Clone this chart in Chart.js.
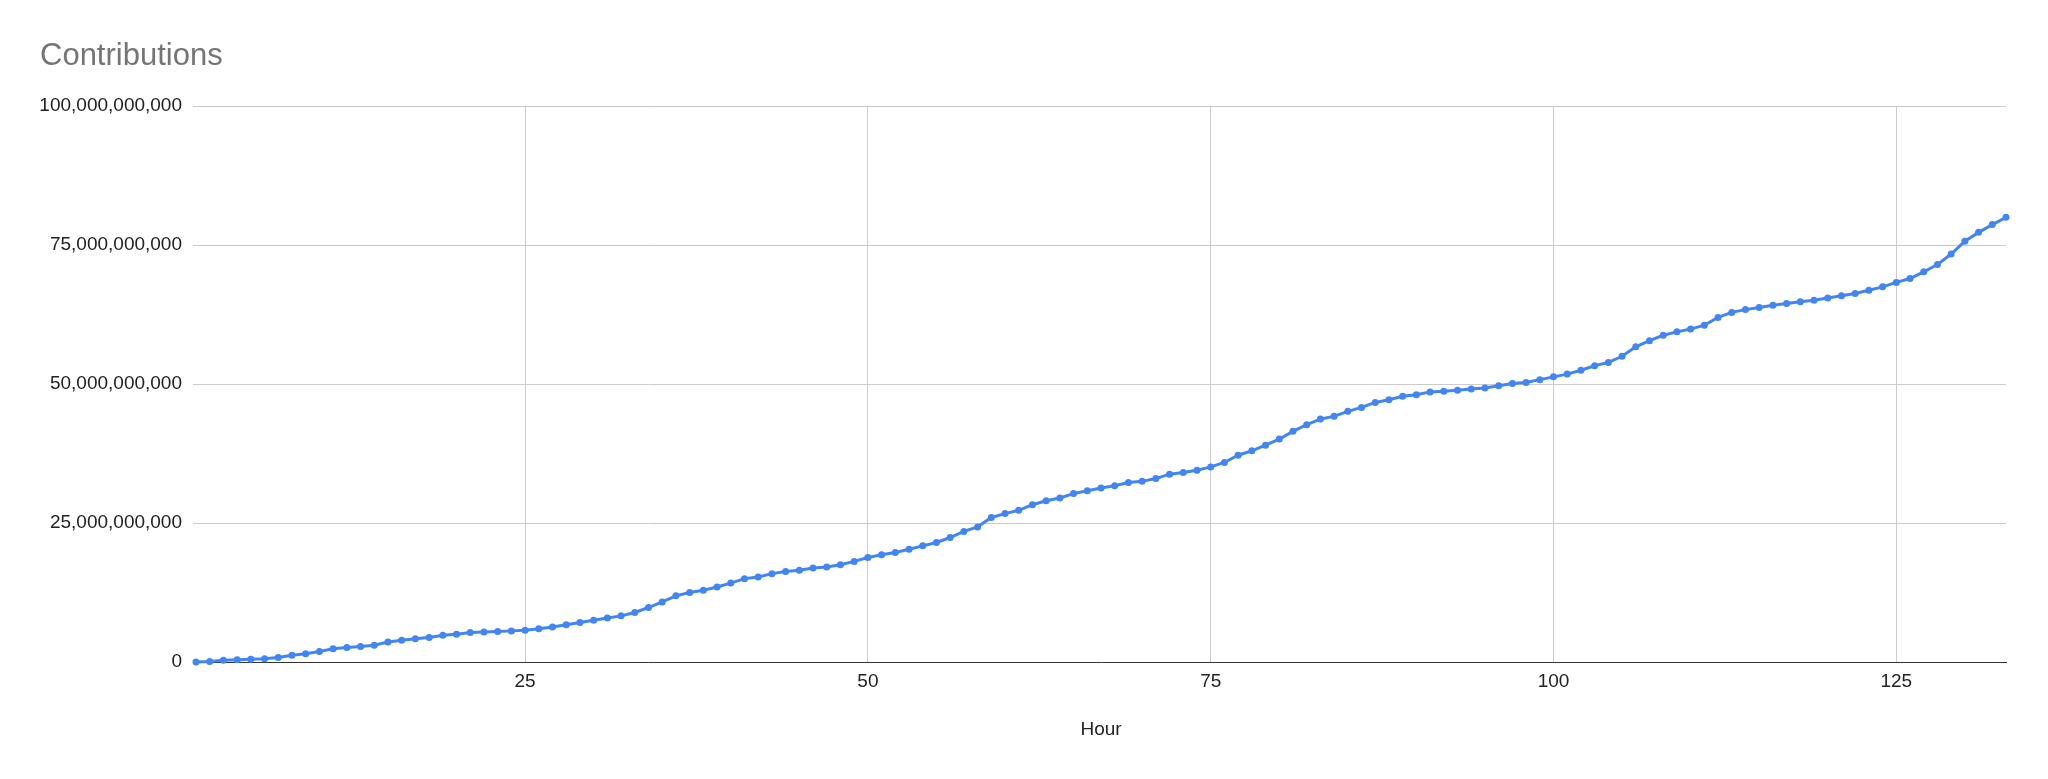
<!DOCTYPE html>
<html>
<head>
<meta charset="utf-8">
<script src="https://cdn.jsdelivr.net/npm/chart.js@4/dist/chart.umd.min.js"></script>
<style>
  html, body { margin: 0; padding: 0; background: #fff; }
  #wrap { width: 2048px; height: 779px; }
</style>
</head>
<body>
<div id="wrap"><canvas id="c" width="2048" height="779"></canvas></div>
<script>
const chartTitle = 'Contributions';
const xAxisTitle = 'Hour';
const hours = [
  1,2,3,4,5,6,7,8,9,10,11,12,13,14,15,16,17,18,19,20,21,22,23,24,25,26,
  27,28,29,30,31,32,33,34,35,36,37,38,39,40,41,42,43,44,45,46,47,48,49,50,
  51,52,53,54,55,56,57,58,59,60,61,62,63,64,65,66,67,68,69,70,71,72,73,74,75,
  76,77,78,79,80,81,82,83,84,85,86,87,88,89,90,91,92,93,94,95,96,97,98,99,100,
  101,102,103,104,105,106,107,108,109,110,111,112,113,114,115,116,117,118,119,120,
  121,122,123,124,125,126,127,128,129,130,131,132,133
];
// Contributions in billions
const contributionsBillions = [
  0, 0.1, 0.3, 0.4, 0.5, 0.6, 0.8, 1.2, 1.5, 1.9, 2.4, 2.6, 2.8, 3.0, 3.6, 3.9, 4.2, 4.4, 4.8, 5.0, 5.3, 5.4, 5.5, 5.6, 5.7, 6.0,
  6.3, 6.7, 7.1, 7.5, 7.9, 8.3, 8.9, 9.8, 10.8, 11.9, 12.5, 12.9, 13.5, 14.2, 15.0, 15.3, 15.9, 16.3, 16.5, 16.9, 17.1, 17.5, 18.1, 18.8,
  19.3, 19.7, 20.3, 20.9, 21.5, 22.4, 23.5, 24.3, 26.0, 26.7, 27.3, 28.3, 29.0, 29.5, 30.3, 30.8, 31.3, 31.7, 32.3, 32.5, 33.0, 33.8, 34.1, 34.5, 35.1,
  35.9, 37.2, 38.0, 39.0, 40.1, 41.5, 42.7, 43.7, 44.2, 45.1, 45.8, 46.7, 47.2, 47.8, 48.1, 48.6, 48.7, 48.9, 49.1, 49.3, 49.7, 50.1, 50.3, 50.8, 51.3,
  51.8, 52.5, 53.3, 53.9, 55.0, 56.7, 57.8, 58.8, 59.4, 59.9, 60.6, 62.0, 62.9, 63.4, 63.8, 64.2, 64.5, 64.8, 65.1, 65.5, 65.9, 66.3, 66.9, 67.5, 68.3, 69.0, 70.2, 71.5, 73.4, 75.7, 77.3, 78.7, 80.0
];
const xTickValues = [25, 50, 75, 100, 125];
const yTickValues = [0, 25, 50, 75, 100];
const yTickLabels = ['0', '25,000,000,000', '50,000,000,000', '75,000,000,000', '100,000,000,000'];

const FONT = '"Liberation Sans", Arial, sans-serif';
const points = hours.map((h, i) => ({ x: h, y: contributionsBillions[i] }));

new Chart(document.getElementById('c'), {
  type: 'line',
  data: {
    datasets: [{
      data: points,
      borderColor: '#4285F4',
      backgroundColor: '#4285F4',
      borderWidth: 3,
      pointRadius: 3.5,
      pointBorderWidth: 0,
      pointBackgroundColor: '#4285F4',
      tension: 0,
      fill: false,
      clip: false
    }]
  },
  options: {
    responsive: false,
    animation: false,
    devicePixelRatio: 1,
    layout: { padding: { left: 40, right: 42, top: 0, bottom: 0 } },
    plugins: {
      legend: { display: false },
      tooltip: { enabled: false },
      title: {
        display: true,
        text: chartTitle,
        align: 'start',
        color: '#757575',
        font: { family: FONT, size: 31, weight: 'normal' },
        padding: { top: 38, bottom: 31 }
      }
    },
    scales: {
      x: {
        type: 'linear',
        min: 1,
        max: 133,
        afterBuildTicks: (scale) => { scale.ticks = xTickValues.map(v => ({ value: v })); },
        afterFit: (scale) => { scale.height = 117; },
        ticks: {
          color: '#222',
          font: { family: FONT, size: 19 },
          padding: 8,
          maxRotation: 0,
          autoSkip: false
        },
        grid: { color: '#cccccc', lineWidth: 1, drawTicks: false },
        border: { display: true, color: '#333333', width: 1 },
        title: {
          display: true,
          text: xAxisTitle,
          color: '#222',
          font: { family: FONT, size: 19 },
          padding: { top: 0, bottom: 38 }
        }
      },
      y: {
        min: 0,
        max: 100,
        afterBuildTicks: (scale) => { scale.ticks = yTickValues.map(v => ({ value: v })); },
        afterFit: (scale) => { scale.width = 156; },
        ticks: {
          color: '#222',
          font: { family: FONT, size: 19 },
          padding: 11,
          callback: (v) => yTickLabels[yTickValues.indexOf(v)]
        },
        grid: { color: '#cccccc', lineWidth: 1, drawTicks: true, tickLength: 3 },
        border: { display: false }
      }
    }
  }
});
</script>
</body>
</html>
